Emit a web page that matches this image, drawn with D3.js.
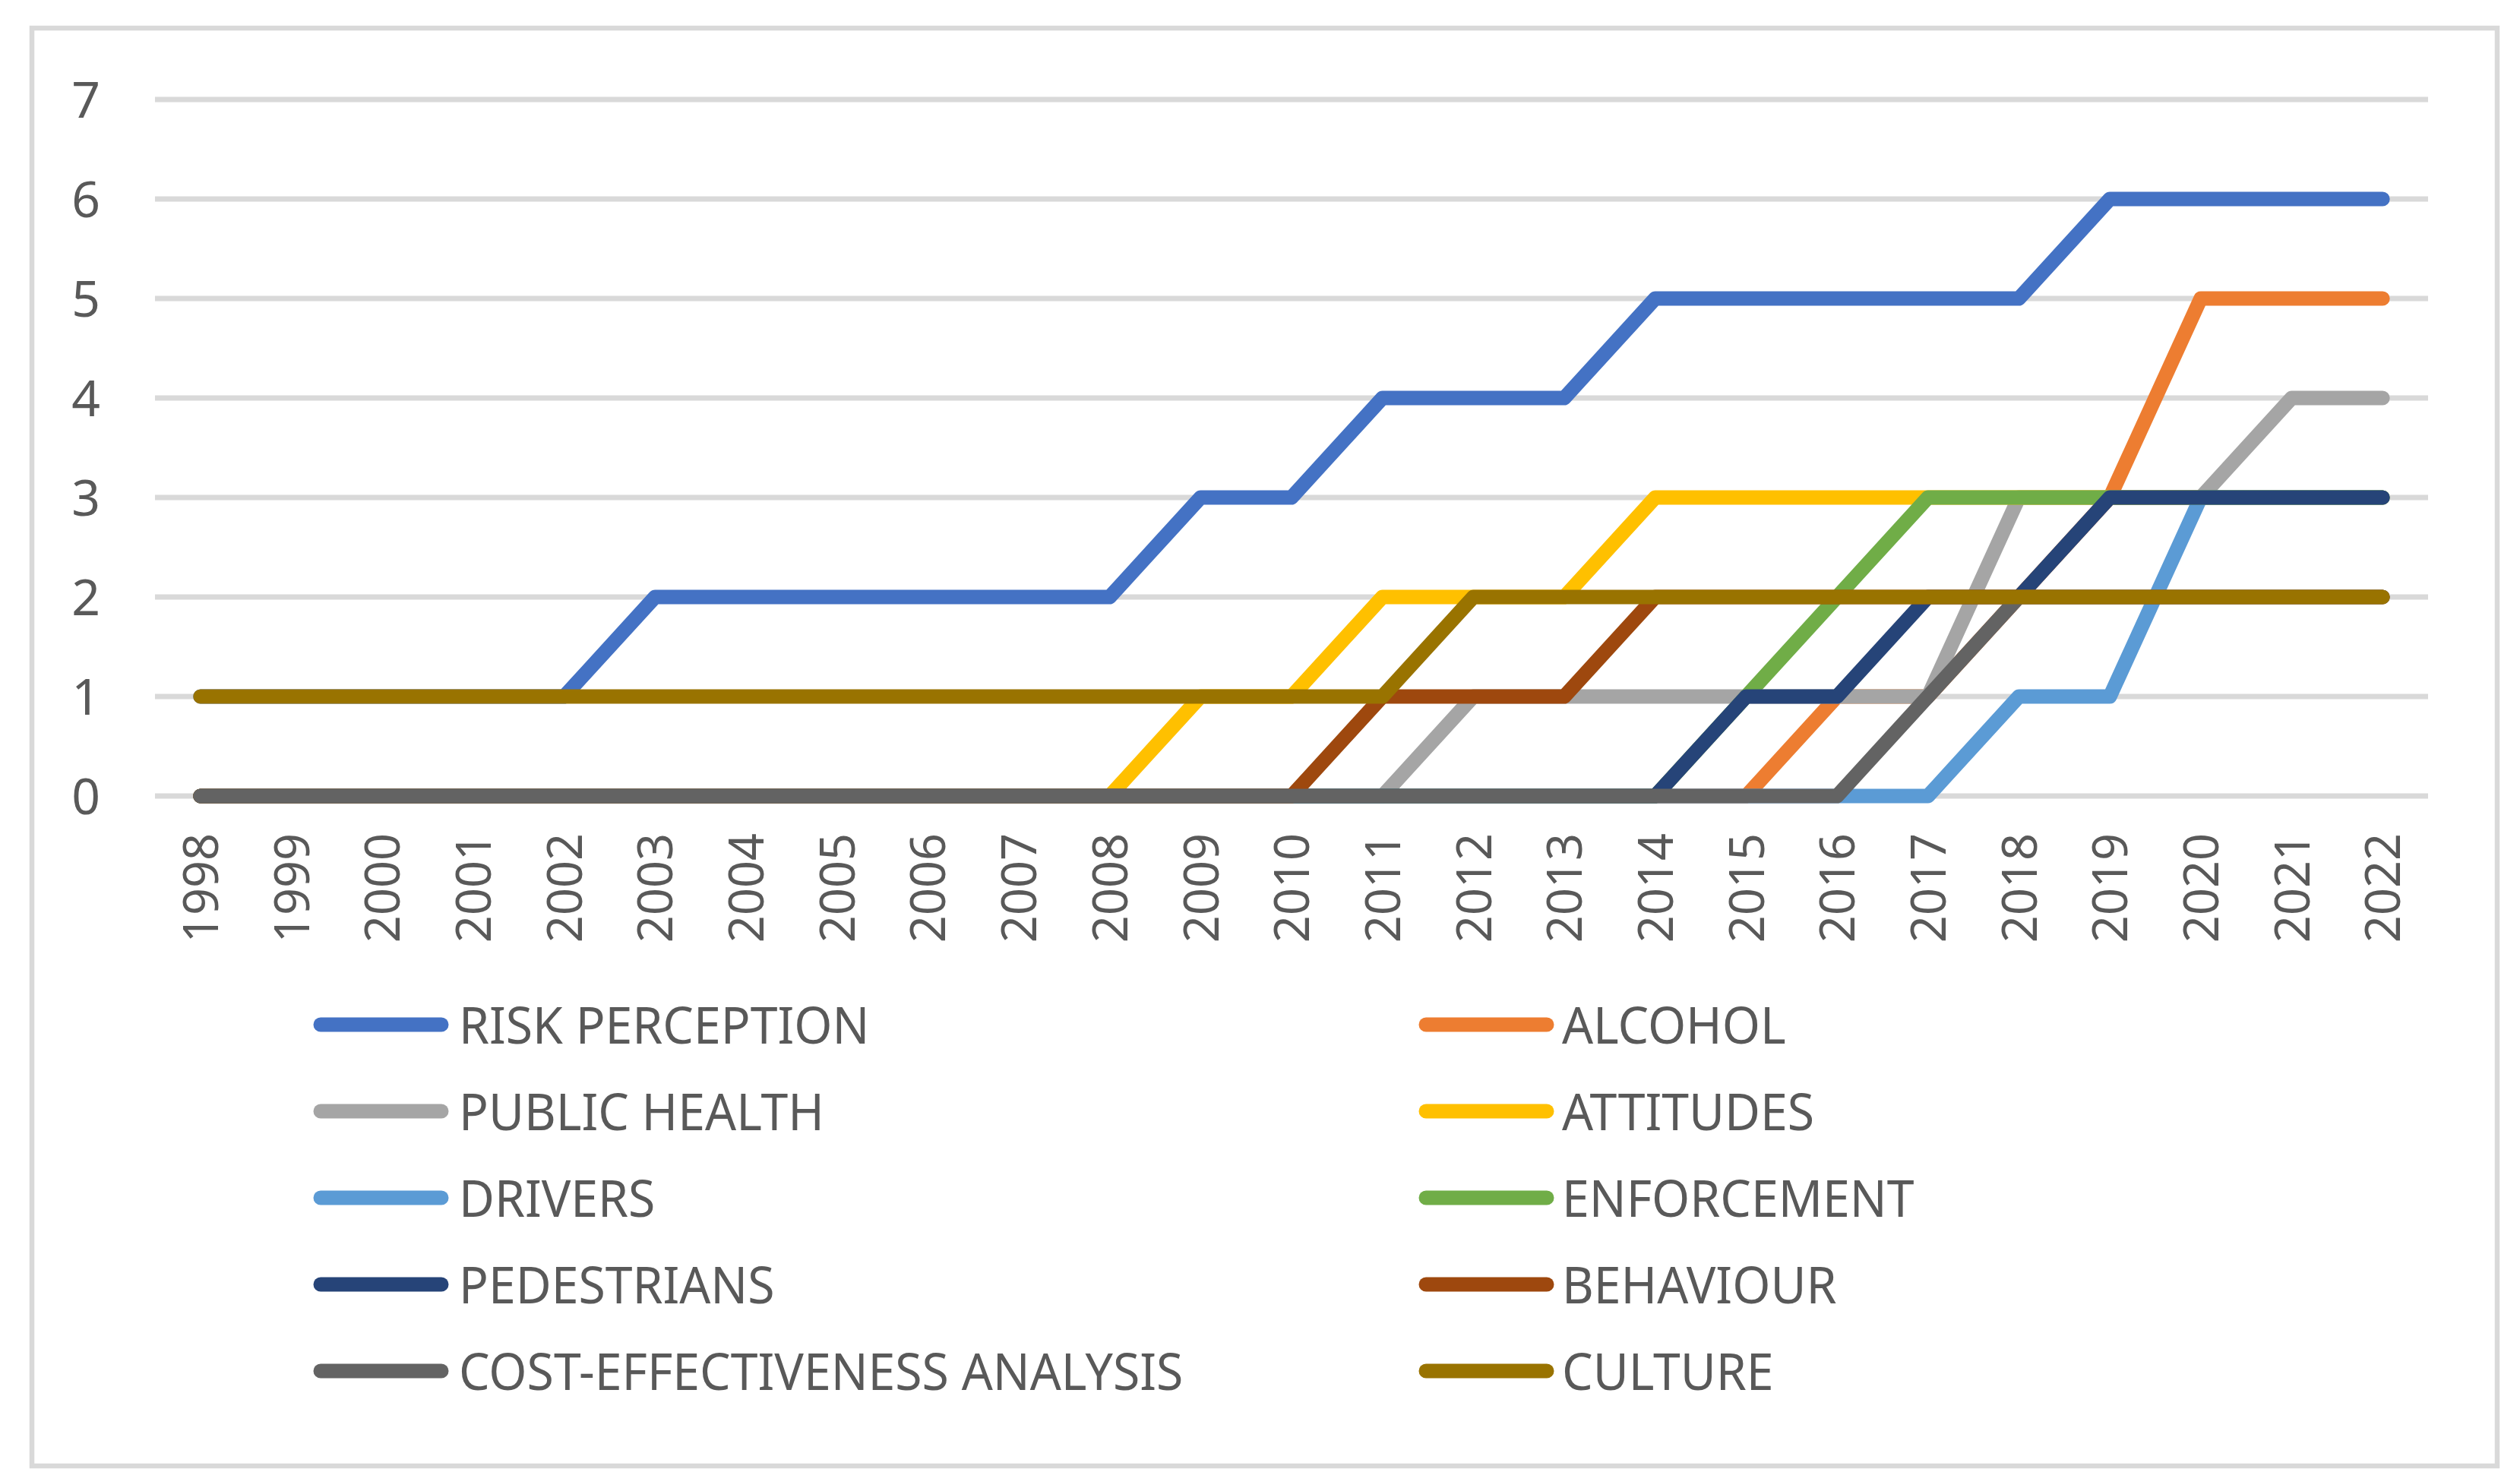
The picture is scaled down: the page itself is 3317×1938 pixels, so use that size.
<!DOCTYPE html>
<html>
<head>
<meta charset="utf-8">
<script src="https://cdn.jsdelivr.net/npm/d3@7"></script>
<style>
  html, body { margin: 0; padding: 0; background: #fff; }
  svg { display: block; }
</style>
</head>
<body>
<svg id="chart" width="3317" height="1938"></svg>
<script>
const years = ["1998","1999","2000","2001","2002","2003","2004","2005","2006","2007","2008","2009","2010","2011","2012","2013","2014","2015","2016","2017","2018","2019","2020","2021","2022"];
const yTicks = [0,1,2,3,4,5,6,7];

const seriesNames = ["RISK PERCEPTION","ALCOHOL","PUBLIC HEALTH","ATTITUDES","DRIVERS","ENFORCEMENT","PEDESTRIANS","BEHAVIOUR","COST-EFFECTIVENESS ANALYSIS","CULTURE"];
const seriesColors = ["#4472C4","#ED7D31","#A5A5A5","#FFC000","#5B9BD5","#70AD47","#264478","#9E480E","#636363","#997300"];

const riskPerception = [1,1,1,1,1,2,2,2,2,2,2,3,3,4,4,4,5,5,5,5,5,6,6,6,6];
const alcohol        = [0,0,0,0,0,0,0,0,0,0,0,0,0,0,0,0,0,0,1,1,2,3,5,5,5];
const publicHealth   = [0,0,0,0,0,0,0,0,0,0,0,0,0,0,1,1,1,1,1,1,3,3,3,4,4];
const attitudes      = [0,0,0,0,0,0,0,0,0,0,0,1,1,2,2,2,3,3,3,3,3,3,3,3,3];
const drivers        = [0,0,0,0,0,0,0,0,0,0,0,0,0,0,0,0,0,0,0,0,1,1,3,3,3];
const enforcement    = [0,0,0,0,0,0,0,0,0,0,0,0,0,0,0,0,0,1,2,3,3,3,3,3,3];
const pedestrians    = [0,0,0,0,0,0,0,0,0,0,0,0,0,0,0,0,0,1,1,2,2,3,3,3,3];
const behaviour      = [0,0,0,0,0,0,0,0,0,0,0,0,0,1,1,1,2,2,2,2,2,2,2,2,2];
const costEffectiveness = [0,0,0,0,0,0,0,0,0,0,0,0,0,0,0,0,0,0,0,1,2,2,2,2,2];
const culture        = [1,1,1,1,1,1,1,1,1,1,1,1,1,1,2,2,2,2,2,2,2,2,2,2,2];

const seriesValues = [riskPerception, alcohol, publicHealth, attitudes, drivers, enforcement, pedestrians, behaviour, costEffectiveness, culture];

const FONT = "'Noto Sans', 'Open Sans', sans-serif";
const TEXT = "#595959";
const GRID = "#D9D9D9";

const svg = d3.select("#chart");

// outer border
svg.append("rect")
  .attr("x", 42).attr("y", 37).attr("width", 3245).attr("height", 1893)
  .attr("fill", "#fff").attr("stroke", GRID).attr("stroke-width", 6.5);

const plotLeft = 204, plotRight = 3196, plotTop = 131, plotBottom = 1048;

const x = d3.scalePoint().domain(years).range([plotLeft, plotRight]).padding(0.5);
const y = d3.scaleLinear().domain([0, 7]).range([plotBottom, plotTop]);

// gridlines
svg.append("g").selectAll("line").data(yTicks).join("line")
  .attr("x1", plotLeft).attr("x2", plotRight)
  .attr("y1", d => y(d)).attr("y2", d => y(d))
  .attr("stroke", GRID).attr("stroke-width", 7);

// y axis labels
const yAxis = svg.append("g").attr("transform", `translate(${plotLeft},0)`)
  .call(d3.axisLeft(y).tickValues(yTicks).tickSize(0).tickPadding(72).tickFormat(d3.format("d")));
yAxis.select(".domain").remove();
yAxis.selectAll("text")
  .attr("font-family", FONT).attr("font-size", 66).attr("fill", TEXT)
  .attr("dy", "0.36em");

// x axis labels
const xAxis = svg.append("g").attr("transform", `translate(0,${plotBottom})`)
  .call(d3.axisBottom(x).tickSize(0));
xAxis.select(".domain").remove();
xAxis.selectAll("text")
  .attr("font-family", FONT).attr("font-size", 63).attr("fill", TEXT)
  .attr("transform", "rotate(-90)")
  .attr("text-anchor", "end")
  .attr("x", -49).attr("y", 0).attr("dy", "0.36em");

// lines
const line = d3.line()
  .x((d, i) => x(years[i]))
  .y(d => y(d));

svg.append("g").selectAll("path").data(seriesValues).join("path")
  .attr("d", d => line(d))
  .attr("fill", "none")
  .attr("stroke", (d, i) => seriesColors[i])
  .attr("stroke-width", 19)
  .attr("stroke-linejoin", "round")
  .attr("stroke-linecap", "round");

// legend
const legendCols = [{sym: 422, text: 604}, {sym: 1877, text: 2056}];
const rowY = [1349, 1463, 1577, 1691, 1805];
const symLen = 159;
const legend = svg.append("g");
seriesNames.forEach((name, i) => {
  const col = legendCols[i % 2];
  const ry = rowY[Math.floor(i / 2)];
  legend.append("line")
    .attr("x1", col.sym).attr("x2", col.sym + symLen)
    .attr("y1", ry).attr("y2", ry)
    .attr("stroke", seriesColors[i]).attr("stroke-width", 19)
    .attr("stroke-linecap", "round");
  legend.append("g")
    .attr("transform", `translate(${col.text},${ry + 25}) scale(0.96,1.02)`)
    .append("text")
    .attr("font-family", FONT).attr("font-size", 67).attr("fill", TEXT)
    .text(name);
});
</script>
</body>
</html>
